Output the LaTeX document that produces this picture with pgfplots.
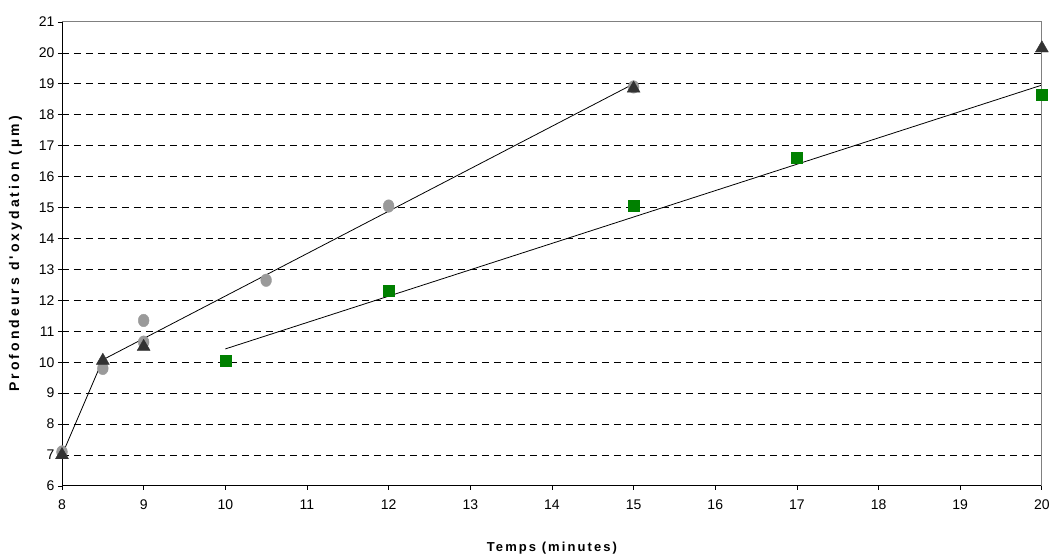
\documentclass[border=0pt]{standalone}
\usepackage{pgfplots}
\pgfplotsset{compat=1.18}
\usepackage{fontspec}
\setmainfont{Liberation Sans}
\newfontfamily\spacedy[LetterSpace=22]{Liberation Sans}
\newfontfamily\spacedx[LetterSpace=16]{Liberation Sans}
\definecolor{circgray}{HTML}{9A9A9A}
\definecolor{tri}{HTML}{333333}
\definecolor{sqgreen}{HTML}{008000}
\begin{document}
\begin{tikzpicture}
\begin{axis}[
  scale only axis, width=980pt, height=464pt,
  at={(0,0)}, anchor=south west,
  xmin=8, xmax=20, ymin=6, ymax=21,
  xtick={8,...,20}, ytick={6,...,21},
  extra y ticks={7,...,20}, extra y tick labels={},
  extra y tick style={ymajorgrids=true, major tick length=0pt},
  axis x line*=bottom, axis y line*=left,
  axis line style={black, line width=0.9pt},
  tick style={black, line width=0.8pt},
  tick align=outside, major tick length=4pt,
  x axis line style={-}, y axis line style={-},
  grid style={black, dashed, dash pattern=on 7pt off 5pt, line width=0.8pt},
  ticklabel style={font=\fontsize{14}{16}\selectfont},
  /pgf/number format/assume math mode=true,
  xticklabel style={yshift=-6pt},
  xlabel={\spacedx\bfseries Temps (minutes)},
  ylabel={\spacedy\bfseries Profondeurs d'oxydation (\textmu m)},
  xlabel style={font=\fontsize{13}{15}\selectfont, yshift=-26pt},
  ylabel style={font=\fontsize{14}{16}\selectfont, yshift=6pt},
  clip=false,
]
% trend lines
\addplot[black, line width=0.8pt] coordinates {(8,7.0) (8.5,10.08) (15,19.0)};
\addplot[black, line width=0.8pt] coordinates {(10,10.43) (20,18.96)};
% gray circles
\addplot[only marks, mark=*, mark size=6pt, mark options={circgray, draw=circgray, xscale=0.9, yscale=1.05}] coordinates {
(8,7.1) (8.5,9.8) (9,11.35) (9,10.65) (10.5,12.65) (12,15.05) (15,18.9)};
% triangles
\addplot[only marks, mark=triangle*, mark size=7.5pt, mark options={tri, draw=tri}] coordinates {
(8,7.0) (8.5,10.05) (9,10.5) (15,18.85) (20,20.15)};
% green squares
\addplot[only marks, mark=square*, mark size=5.5pt, mark options={sqgreen, draw=sqgreen}] coordinates {
(10,10.05) (12,12.3) (15,15.05) (17,16.6) (20,18.65)};
\draw[gray, line width=1pt] (rel axis cs:0,1) -- (rel axis cs:1,1) -- (rel axis cs:1,0);
\end{axis}
\path (-62pt,-74pt) rectangle (991pt,486pt);
\end{tikzpicture}
\end{document}
